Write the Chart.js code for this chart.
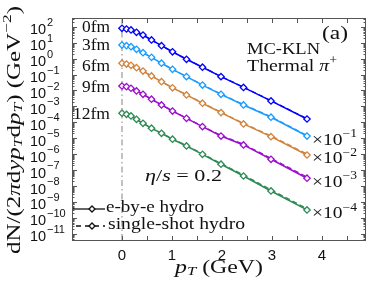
<!DOCTYPE html>
<html>
<head>
<meta charset="utf-8">
<script src="https://cdn.jsdelivr.net/npm/chart.js@4"></script>
<style>
  html, body { margin: 0; padding: 0; background: #fff; }
  #wrap { width: 374px; height: 287px; position: relative; }
</style>
</head>
<body>
<div id="wrap"><canvas id="myChart"></canvas></div>
<script>
// pT grid (GeV)
const pT = [0, 0.09, 0.18, 0.29, 0.42, 0.59, 0.79, 1.01, 1.29, 1.61, 1.98, 2.43, 2.98, 3.70];

// e-by-e hydro (solid, with markers)
const ebe0  = [80, 72.4, 63, 44.7, 30.2, 14.8, 6.46, 2.69, 0.91, 0.288, 0.074, 0.0155, 0.0022, 1.62e-4];
const ebe3  = [7.16, 6.46, 5.62, 3.85, 2.34, 1.2, 0.513, 0.214, 0.074, 0.0219, 0.00575, 0.00123, 2.09e-4, 1.38e-5];
const ebe6  = [0.513, 0.457, 0.38, 0.269, 0.166, 0.0813, 0.0355, 0.0148, 0.00525, 0.00158, 4.07e-4, 7.94e-5, 1.26e-5, 8.9e-7];
const ebe9  = [0.0191, 0.0174, 0.0138, 0.00933, 0.00575, 0.00282, 0.00123, 5.13e-4, 1.78e-4, 5.37e-5, 1.38e-5, 3.8e-6, 4.79e-7, 3.09e-8];
const ebe12 = [3.72e-4, 3.16e-4, 2.51e-4, 1.55e-4, 8.71e-5, 4.27e-5, 2.04e-5, 8.71e-6, 3.27e-6, 9.77e-7, 2.34e-7, 4.27e-8, 4.9e-9, 3.16e-10];

// single-shot hydro (dashed)
const ss0  = [80, 72.4, 63, 44.7, 30.2, 14.8, 6.5, 2.7, 0.92, 0.292, 0.076, 0.016, 0.0023, 1.7e-4];
const ss3  = [7.16, 6.46, 5.62, 3.85, 2.34, 1.2, 0.515, 0.216, 0.075, 0.0225, 0.006, 0.0013, 2.25e-4, 1.5e-5];
const ss6  = [0.513, 0.457, 0.38, 0.269, 0.166, 0.0815, 0.0357, 0.015, 0.0054, 0.00166, 4.35e-4, 8.7e-5, 1.42e-5, 1.03e-6];
const ss9  = [0.0191, 0.0174, 0.0138, 0.00933, 0.00577, 0.00284, 0.00125, 5.25e-4, 1.85e-4, 5.7e-5, 1.5e-5, 4.25e-6, 5.5e-7, 3.7e-8];
const ss12 = [3.72e-4, 3.16e-4, 2.51e-4, 1.56e-4, 8.8e-5, 4.33e-5, 2.09e-5, 9.1e-6, 3.5e-6, 1.07e-6, 2.6e-7, 4.9e-8, 5.8e-9, 3.8e-10];

const ebeSeries = [ebe0, ebe3, ebe6, ebe9, ebe12];
const ssSeries = [ss0, ss3, ss6, ss9, ss12];
const seriesNames = ['0fm', '3fm', '6fm', '9fm', '12fm'];
const scaleExps = [null, '−1', '−2', '−3', '−4'];

const yTickExps = [2, 1, 0, -1, -2, -3, -4, -5, -6, -7, -8, -9, -10, -11];
const xTicks = [0, 0.5, 1, 1.5, 2, 2.5, 3, 3.5, 4, 4.5];
const xLabels = [0, 1, 2, 3, 4];

const colors = ['#0000ff', '#1a9cff', '#d0843e', '#9a10cc', '#2e8a55'];

const SERIF = '"Liberation Serif", "Times New Roman", serif';
const SANS = '"Liberation Sans", Arial, sans-serif';
const INK = '#111';

// text with italic / super / subscript pieces, optionally stretched to a width
function rich(ctx, parts, x, y, fs, align, targetW) {
  const items = parts.map(([t, st]) => {
    const small = st.includes('sup') || st.includes('sub');
    const sz = small ? fs * 0.7 : fs;
    const font = (st.startsWith('i') ? 'italic ' : '') + sz + 'px ' + SERIF;
    ctx.font = font;
    const dy = st.includes('sup') ? -fs * 0.38 : st.includes('sub') ? fs * 0.22 : 0;
    return { t, font, dy, w: ctx.measureText(t).width };
  });
  const total = items.reduce((a, b) => a + b.w, 0);
  const sx = targetW ? targetW / total : 1;
  const start = align === 'right' ? -total * sx : align === 'center' ? -total * sx / 2 : 0;
  ctx.save();
  ctx.translate(x + start, y);
  ctx.scale(sx, 1);
  ctx.textBaseline = 'middle';
  ctx.textAlign = 'left';
  ctx.fillStyle = INK;
  let cx = 0;
  items.forEach(it => { ctx.font = it.font; ctx.fillText(it.t, cx, it.dy); cx += it.w; });
  ctx.restore();
}

function diamond(ctx, x, y, r, color) {
  ctx.beginPath();
  ctx.moveTo(x, y - r); ctx.lineTo(x + r, y); ctx.lineTo(x, y + r); ctx.lineTo(x - r, y); ctx.closePath();
  ctx.fillStyle = '#fff'; ctx.fill();
  ctx.lineWidth = 1.3; ctx.strokeStyle = color; ctx.setLineDash([]); ctx.stroke();
}

const datasets = [];
ebeSeries.forEach((s, i) => {
  datasets.push({
    label: seriesNames[i] + ' e-by-e',
    data: pT.map((x, j) => ({ x, y: s[j] })),
    borderColor: colors[i], borderWidth: 1.5,
    pointStyle: 'rectRot', pointRadius: 3.2, pointBorderWidth: 1.3,
    pointBackgroundColor: '#fff', pointBorderColor: colors[i],
    tension: 0
  });
});
ssSeries.forEach((s, i) => {
  datasets.push({
    label: seriesNames[i] + ' single-shot',
    data: pT.map((x, j) => ({ x, y: s[j] })),
    borderColor: colors[i], borderWidth: 1.3, borderDash: [5, 3],
    pointRadius: 0, tension: 0
  });
});

const decorations = {
  id: 'decorations',
  beforeDatasetsDraw(chart) {
    const { ctx, chartArea: a, scales: { x } } = chart;
    const x0 = x.getPixelForValue(0);
    ctx.save();
    ctx.strokeStyle = '#999'; ctx.lineWidth = 1.2; ctx.setLineDash([6, 3, 1.5, 3]);
    ctx.beginPath(); ctx.moveTo(x0, a.top); ctx.lineTo(x0, a.bottom); ctx.stroke();
    ctx.restore();
  },
  afterDraw(chart) {
    const { ctx, chartArea: a, scales: { x, y } } = chart;
    ctx.save();
    // frame and inward ticks
    ctx.strokeStyle = '#555'; ctx.lineWidth = 1; ctx.setLineDash([]);
    ctx.strokeRect(a.left + 0.5, a.top + 0.5, a.right - a.left - 1, a.bottom - a.top - 1);
    ctx.beginPath();
    y.ticks.forEach(t => {
      const py = Math.round(y.getPixelForValue(t.value)) + 0.5;
      const e = Math.log10(t.value);
      const len = Math.abs(e - Math.round(e)) < 1e-6 ? 5 : 2.5;
      ctx.moveTo(a.left, py); ctx.lineTo(a.left + len, py);
      ctx.moveTo(a.right, py); ctx.lineTo(a.right - len, py);
    });
    x.ticks.forEach(t => {
      const px = Math.round(x.getPixelForValue(t.value)) + 0.5;
      ctx.moveTo(px, a.bottom); ctx.lineTo(px, a.bottom - 5);
      ctx.moveTo(px, a.top); ctx.lineTo(px, a.top + 5);
    });
    ctx.stroke();

    // y tick labels: 10 with a raised exponent
    ctx.fillStyle = INK;
    ctx.textBaseline = 'middle';
    ctx.textAlign = 'left';
    yTickExps.forEach(e => {
      const py = y.getPixelForValue(Math.pow(10, e));
      ctx.font = '14.5px ' + SANS;
      ctx.fillText('10', 30, py + 3.5);
      ctx.font = '11px ' + SANS;
      ctx.fillText(String(e).replace('-', '−'), 47, py - 4);
    });

    // series names at pT = 0
    const nameY = [28, 46, 67, 88, 115];
    seriesNames.forEach((n, i) => rich(ctx, [[n, 'r']], 110, nameY[i], 17, 'right', n.length > 3 ? 37 : 28));

    // scale factors at the end of the curves
    const lastX = x.getPixelForValue(pT[pT.length - 1]);
    ebeSeries.forEach((s, i) => {
      if (!scaleExps[i]) return;
      const py = y.getPixelForValue(s[s.length - 1]);
      rich(ctx, [['×10', 'r'], [scaleExps[i], 'sup']], lastX + 5, py + 4, 17, 'left', 45);
    });

    rich(ctx, [['(a)', 'r']], 322, 34, 18, 'left', 26);
    rich(ctx, [['MC-KLN', 'r']], 247, 50, 17, 'left', 73);
    rich(ctx, [['Thermal ', 'r'], ['π', 'i'], ['+', 'sup']], 247, 67, 17, 'left', 90);
    rich(ctx, [['η', 'i'], ['/', 'r'], ['s', 'i'], [' = 0.2', 'r']], 145, 177, 17, 'left', 77);

    // legend
    const lx0 = a.left + 1, lx1 = 105;
    ctx.strokeStyle = INK; ctx.lineWidth = 1.3;
    ctx.beginPath(); ctx.moveTo(lx0, 209); ctx.lineTo(lx1, 209); ctx.stroke();
    diamond(ctx, 92, 209, 3, INK);
    rich(ctx, [['e-by-e hydro', 'r']], 106, 208, 17, 'left', 98);
    ctx.strokeStyle = INK; ctx.lineWidth = 1.3; ctx.setLineDash([5, 4]);
    ctx.beginPath(); ctx.moveTo(lx0 + 3, 226); ctx.lineTo(lx1, 226); ctx.stroke();
    ctx.setLineDash([]);
    diamond(ctx, 92, 226, 3, INK);
    rich(ctx, [['single-shot hydro', 'r']], 108, 225, 17, 'left', 137);

    // axis titles
    rich(ctx, [['p', 'i'], ['T', 'isub'], [' (GeV)', 'r']], (a.left + a.right) / 2, 268, 18, 'center', 88);
    ctx.save();
    ctx.translate(15, 130);
    ctx.rotate(-Math.PI / 2);
    rich(ctx, [['dN/(2', 'r'], ['π', 'i'], ['d', 'r'], ['yp', 'i'], ['T', 'isub'], ['d', 'r'], ['p', 'i'], ['T', 'isub'],
               [') (GeV', 'r'], ['−2', 'sup'], [')', 'r']], 0, 0, 18.5, 'center', 248);
    ctx.restore();
    ctx.restore();
  }
};

const config = {
  type: 'line',
  data: { datasets },
  options: {
    responsive: true,
    maintainAspectRatio: false,
    animation: false,
    layout: { padding: { top: 18, right: 8, left: 0, bottom: 0 } },
    plugins: { legend: { display: false }, tooltip: { enabled: false } },
    scales: {
      x: {
        type: 'linear', min: -1, max: 4.88,
        afterBuildTicks: s => { s.ticks = xTicks.map(v => ({ value: v })); },
        afterFit: s => { s.height = 46; },
        grid: { display: false, drawTicks: false },
        border: { display: false },
        ticks: {
          autoSkip: false, maxRotation: 0, padding: 6, color: INK,
          font: { family: SANS, size: 15 },
          callback: v => xLabels.includes(v) ? String(v) : ''
        }
      },
      y: {
        type: 'logarithmic', min: Math.pow(10, -11.45), max: Math.pow(10, 2.55),
        afterBuildTicks: s => {
          const t = [];
          yTickExps.forEach(e => {
            t.push({ value: Math.pow(10, e) });
            for (let m = 2; m <= 9; m++) {
              const v = m * Math.pow(10, e);
              if (v <= s.max) t.push({ value: v });
            }
          });
          [4, 5, 6, 7, 8, 9].forEach(m => t.push({ value: m * Math.pow(10, -12) }));
          s.ticks = t.sort((p, q) => p.value - q.value);
        },
        afterFit: s => { s.width = 72; },
        grid: { display: false, drawTicks: false },
        border: { display: false },
        ticks: { autoSkip: false, padding: 6, callback: () => '' }
      }
    }
  },
  plugins: [decorations]
};

const myChart = new Chart(document.getElementById('myChart'), config);
</script>
</body>
</html>
